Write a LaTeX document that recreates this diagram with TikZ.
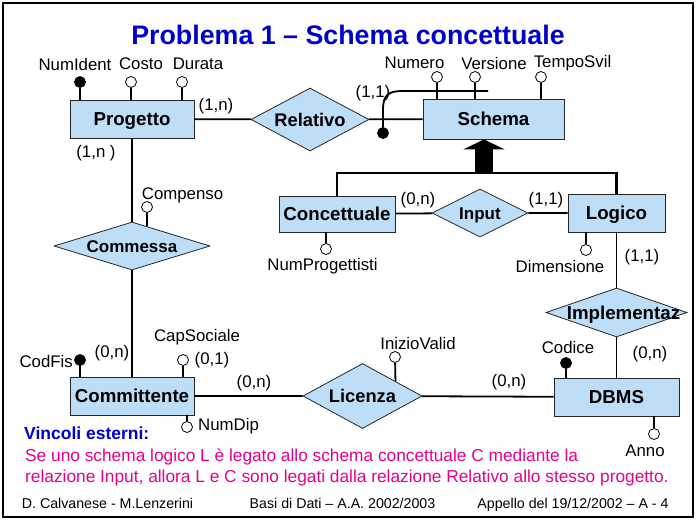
\documentclass[tikz,border=0pt]{standalone}
\usepackage{fontspec}
\setmainfont{Liberation Sans}
\usetikzlibrary{shapes.geometric,arrows.meta,calc}
\definecolor{erfill}{RGB}{189,222,246}
\definecolor{titleblue}{RGB}{0,0,204}
\definecolor{notepink}{RGB}{230,0,140}

\begin{document}
\begin{tikzpicture}[x=1pt,y=-1pt,
  entity/.style={draw=black!85,line width=0.8pt,fill=erfill,inner sep=0pt,minimum height=38pt,
    text height=13.4pt,text depth=0pt,font=\fontsize{18.7}{20}\selectfont\bfseries},
  relation/.style={diamond,draw=black!85,line width=0.8pt,fill=erfill,inner xsep=-35pt,inner ysep=-8pt,
    text height=13pt,text depth=0pt,font=\fontsize{18.3}{20}\selectfont\bfseries},
  attr/.style={circle,draw,line width=0.8pt,fill=white,inner sep=0pt,minimum size=11pt},
  key/.style={attr,fill=black},
  lab/.style={font=\fontsize{16.8}{18}\selectfont,inner sep=0pt},
  link/.style={line width=1.8pt}]

\useasboundingbox (0,0) rectangle (696,520);
\draw[line width=2pt] (2.5,3) rectangle (692.5,517);

\node[font=\fontsize{26.8}{30}\selectfont\bfseries,text=titleblue,anchor=base,inner sep=0pt] (title) at (348,44) {Problema 1 -- Schema concettuale};

% entities
\node[entity,minimum width=124pt] (prog) at (132,119) {Progetto};
\node[entity,minimum width=141pt,minimum height=40pt] (sch) at (493.5,119) {Schema};
\node[entity,minimum width=116pt,minimum height=36pt] (conc) at (337,214) {Concettuale};
\node[entity,minimum width=97pt] (logi) at (616.5,213) {Logico};
\node[entity,minimum width=124pt] (cmt) at (132,396) {Committente};
\node[entity,minimum width=125pt] (dbms) at (616.5,397) {DBMS};

% relationships
\node[relation,minimum width=118pt,minimum height=63pt] (rel) at (310,119.5) {Relativo};
\node[relation,minimum width=96pt,minimum height=48pt,font=\fontsize{17}{20}\selectfont\bfseries] (inp) at (480,213) {Input};
\node[relation,minimum width=156pt,minimum height=48pt,font=\fontsize{17}{20}\selectfont\bfseries] (comm) at (132,246) {Commessa};
\node[relation,minimum width=119pt,minimum height=65pt] (lic) at (362.5,396) {Licenza};
\node[relation,minimum width=141pt,minimum height=49pt,inner xsep=-45pt,font=\fontsize{18.7}{20}\selectfont\bfseries] (impl) at (616.5,312.5) {\hspace*{14pt}Implementaz};

\draw[link] (prog) -- (rel) -- (sch);
\draw[link] (prog) -- (comm) -- (cmt);
\draw[link] (conc) -- (inp) -- (logi);
\draw[link] (logi) -- (impl) -- (dbms);
\draw[link] (cmt) -- (lic) -- (dbms);

% generalization
\coordinate (bus) at (484,173);
\draw[line width=2.5pt] (conc.north) |- (bus) -| (logi.north);
\draw[line width=18pt,-{Triangle[length=10pt,width=41pt]}] (bus) -- (bus |- sch.south);

% cardinalities
\node[lab] (c1) at (216,106) {(1,n)};
\node[lab] (c2) at (96,153) {(1,n )};
\node[lab] (c3) at (373,93) {(1,1)};
\node[lab] (c4) at (418,200) {(0,n)};
\node[lab] (c5) at (546,200) {(1,1)};
\node[lab] (c6) at (642,257) {(1,1)};
\node[lab] (c7) at (650,354) {(0,n)};
\node[lab] (c8) at (112,353) {(0,n)};
\node[lab] (c9) at (212,360) {(0,1)};
\node[lab] (c10) at (254,383) {(0,n)};
\node[lab] (c11) at (509,382) {(0,n)};

% attributes of Progetto
\node[key] (aNumIdent) at (80,82) {};
\node[attr] (aCosto) at (131,82) {};
\node[attr] (aDurata) at (182,82) {};
\draw[link] (aNumIdent) -- (aNumIdent |- prog.north);
\draw[link] (aCosto) -- (aCosto |- prog.north);
\draw[link] (aDurata) -- (aDurata |- prog.north);
\node[lab] (tNumIdent) at (75,64) {NumIdent};
\node[lab] (tCosto) at (141,64) {Costo};
\node[lab] (tDurata) at (198,64) {Durata};

% attributes of Schema
\node[attr] (aNumero) at (437,77) {};
\node[attr] (aVersione) at (475,77) {};
\node[attr] (aTempo) at (541,77) {};
\draw[link] (aNumero) -- (aNumero |- sch.north);
\draw[link] (aVersione) -- (aVersione |- sch.north);
\draw[link] (aTempo) -- (aTempo |- sch.north);
\node[lab] (tNumero) at (414.5,63) {Numero};
\node[lab] (tVersione) at (494,63) {Versione};
\node[lab] (tTempo) at (572.5,63) {TempoSvil};
\node[key] (kSchema) at (383,133) {};
\coordinate (kEnd) at (488,91);
\draw[link] (kSchema) -- (383,110) .. controls (383,95) and (388,91) .. (403,91) -- (kEnd);

% attributes of Concettuale, Logico
\node[attr] (aNumProg) at (326,249) {};
\draw[link] (aNumProg) -- (aNumProg |- conc.south);
\node[lab] (tNumProg) at (322.5,266) {NumProgettisti};
\node[attr] (aDim) at (586,250) {};
\draw[link] (aDim) -- (aDim |- logi.south);
\node[lab] (tDim) at (560,266) {Dimensione};

% attributes of relationships
\node[attr] (aCompenso) at (147,207) {};
\draw[link] (aCompenso) -- ($(comm.north)!0.19!(comm.east)$);
\node[lab] (tCompenso) at (182.5,195) {Compenso};
\node[attr] (aInizio) at (395,357) {};
\draw[link] (aInizio) -- ($(lic.north)!0.55!(lic.east)$);
\node[lab] (tInizio) at (418,343) {InizioValid};

% attributes of Committente
\node[key] (aCodFis) at (80,360) {};
\draw[link] (aCodFis) -- (aCodFis |- cmt.north);
\node[lab,anchor=east] (tCodFis) at (73,361) {CodFis};
\node[attr] (aCapSoc) at (183,360) {};
\draw[link] (aCapSoc) -- (aCapSoc |- cmt.north);
\node[lab] (tCapSoc) at (197,337) {CapSociale};
\node[attr] (aNumDip) at (187,427) {};
\draw[link] (aNumDip) -- (aNumDip |- cmt.south);
\node[lab,anchor=west] (tNumDip) at (198,426) {NumDip};

% attributes of DBMS
\node[key] (aCodice) at (566,363) {};
\draw[link] (aCodice) -- (aCodice |- dbms.north);
\node[lab] (tCodice) at (568,347) {Codice};
\node[attr] (aAnno) at (654,434) {};
\draw[link] (aAnno) -- (aAnno |- dbms.south);
\node[lab] (tAnno) at (645,451) {Anno};

% constraints
\node[font=\fontsize{17.5}{20}\selectfont\bfseries,text=titleblue,anchor=west,inner sep=0pt] (vinc) at (24,433) {Vincoli esterni:};
\node[font=\fontsize{17.3}{20}\selectfont,text=notepink,anchor=base west,inner sep=0pt] (note1) at (25,461) {Se uno schema logico L è legato allo schema concettuale C mediante la};
\node[font=\fontsize{17.3}{20}\selectfont,text=notepink,anchor=base west,inner sep=0pt] (note2) at (25,482) {relazione Input, allora L e C sono legati dalla relazione Relativo allo stesso progetto.};

% footer
\node[font=\fontsize{14.2}{16}\selectfont,anchor=base,inner sep=0pt] (foot1) at (107.5,508) {D. Calvanese - M.Lenzerini};
\node[font=\fontsize{14.2}{16}\selectfont,anchor=base,inner sep=0pt] (foot2) at (342.5,508) {Basi di Dati -- A.A. 2002/2003};
\node[font=\fontsize{14.2}{16}\selectfont,anchor=base,inner sep=0pt] (foot3) at (573,508) {Appello del 19/12/2002 -- A - 4};
\end{tikzpicture}
\end{document}
